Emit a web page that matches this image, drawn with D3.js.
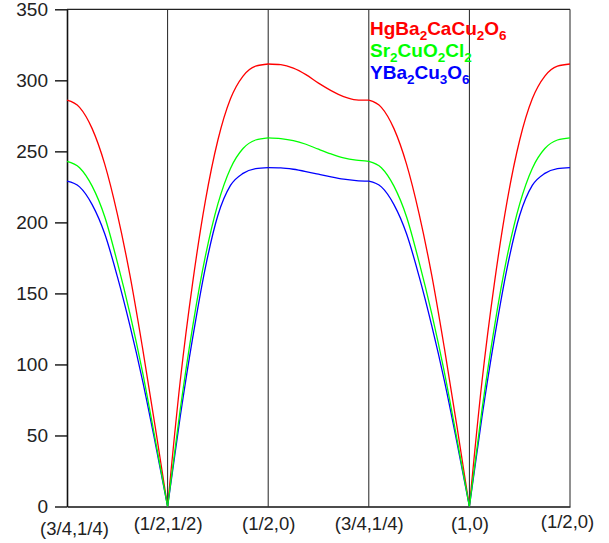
<!DOCTYPE html>
<html>
<head>
<meta charset="utf-8">
<script src="https://cdn.jsdelivr.net/npm/d3@7"></script>
<style>
  html, body { margin: 0; padding: 0; background: #fff; }
  svg { display: block; font-family: "Liberation Sans", Arial, sans-serif; }
</style>
</head>
<body>
<div id="chart"></div>
<script>
// k-path labels (one per high-symmetry point)
var kLabels = ["(3/4,1/4)", "(1/2,1/2)", "(1/2,0)", "(3/4,1/4)", "(1,0)", "(1/2,0)"];
var yTicks = [0, 50, 100, 150, 200, 250, 300, 350];

// legend names, "_n" = subscript
var seriesNames = ["HgBa_2CaCu_2O_6", "Sr_2CuO_2Cl_2", "YBa_2Cu_3O_6"];
var seriesColors = ["#ff0000", "#00ff00", "#0000ff"];

// 8 samples per segment, 5 segments -> 41 values
var hgValues = [286, 281, 266, 241, 206, 163, 112, 57, 0,
                88, 158, 215, 258, 287, 303, 310, 311.5,
                311, 308.6, 304, 298, 292.8, 288.6, 286.3, 286,
                281, 266, 241, 206, 163, 112, 57, 0,
                88, 158, 215, 258, 287, 303, 310, 311.5];
var srValues = [243, 238.5, 225.5, 204, 172, 136, 95, 48, 0,
                68, 127, 176, 213, 238, 252, 258, 259.5,
                259, 257.6, 255, 251.5, 248.2, 245.4, 243.8, 243,
                238.5, 225.5, 204, 172, 136, 95, 48, 0,
                68, 127, 176, 213, 238, 252, 258, 259.5];
var yValues  = [229, 225, 212.5, 192, 162, 127.5, 89, 45.5, 0,
                63, 119, 168, 205, 226, 234.5, 237.8, 238.6,
                238.4, 237.4, 235.8, 233.9, 232, 230.4, 229.4, 229,
                225, 212.5, 192, 162, 127.5, 89, 45.5, 0,
                63, 119, 168, 205, 226, 234.5, 237.8, 238.6];
var samplesPerSeg = 8;

var width = 609, height = 543;
var margin = { left: 67, right: 39, top: 9.3, bottom: 36.5 };

var svg = d3.select("#chart").append("svg")
    .attr("width", width)
    .attr("height", height);

var x = d3.scaleLinear()
    .domain([0, kLabels.length - 1])
    .range([margin.left, width - margin.right]);
var y = d3.scaleLinear()
    .domain([0, 350])
    .range([height - margin.bottom, margin.top]);

// vertical separators at each k point + frame
svg.append("g").selectAll("line")
    .data(d3.range(1, kLabels.length))
    .enter().append("line")
    .attr("x1", d => x(d)).attr("x2", d => x(d))
    .attr("y1", y(0)).attr("y2", y(350))
    .attr("stroke", "#222")
    .attr("stroke-width", 1);

svg.append("line")
    .attr("x1", x(0)).attr("x2", x(5))
    .attr("y1", y(350)).attr("y2", y(350))
    .attr("stroke", "#222").attr("stroke-width", 1.2);

// y axis
var yAxis = svg.append("g")
    .attr("transform", "translate(" + x(0) + ",0)")
    .call(d3.axisLeft(y).tickValues(yTicks).tickSize(12).tickSizeOuter(0).tickPadding(7));
yAxis.select(".domain").attr("stroke", "#111").attr("stroke-width", 1.6);
yAxis.selectAll(".tick line").attr("stroke", "#111").attr("stroke-width", 1.4);
yAxis.selectAll("text")
    .attr("font-size", "19px")
    .attr("fill", "#222")
    .attr("font-family", "Liberation Sans, Arial, sans-serif");

// x axis
var xAxis = svg.append("g")
    .attr("transform", "translate(0," + y(0) + ")")
    .call(d3.axisBottom(x).tickValues(d3.range(kLabels.length)).tickSize(0).tickSizeOuter(0).tickPadding(10.5)
        .tickFormat(i => kLabels[i]));
xAxis.select(".domain").attr("stroke", "#111").attr("stroke-width", 1.6);
xAxis.selectAll("text")
    .attr("font-size", "18.5px")
    .attr("fill", "#222")
    .attr("font-family", "Liberation Sans, Arial, sans-serif");
// first label nudged right/down, last nudged left/up like the original
xAxis.selectAll(".tick").filter(d => d === 0).select("text").attr("x", 7).attr("y", 15.5);
xAxis.selectAll(".tick").filter(d => d === 5).select("text").attr("x", -3).attr("y", 8.5);

// curves, drawn segment by segment so the zeros stay sharp
var allSeries = [hgValues, yValues, srValues];
var allColors = [seriesColors[0], seriesColors[2], seriesColors[1]];
var line = d3.line()
    .x(d => x(d[0]))
    .y(d => y(d[1]))
    .curve(d3.curveMonotoneX);

var curves = svg.append("g");
allSeries.forEach(function(vals, si) {
    var pts = vals.map((v, i) => [i / samplesPerSeg, v]);
    for (var s = 0; s < kLabels.length - 1; s++) {
        curves.append("path")
            .attr("d", line(pts.slice(s * samplesPerSeg, s * samplesPerSeg + samplesPerSeg + 1)))
            .attr("fill", "none")
            .attr("stroke", allColors[si])
            .attr("stroke-width", 1.3);
    }
});

// legend
var legend = svg.append("g").attr("transform", "translate(370,35)");
seriesNames.forEach(function(name, i) {
    var t = legend.append("text")
        .attr("x", 0)
        .attr("y", i * 22)
        .attr("font-size", "19px")
        .attr("font-weight", "bold")
        .attr("fill", seriesColors[i]);
    var parts = name.split(/(_\d)/).filter(p => p.length);
    var sub = false;
    parts.forEach(function(p) {
        if (p[0] === "_") {
            t.append("tspan").attr("font-size", "13.5px").attr("dy", 4.5).text(p.slice(1));
            sub = true;
        } else {
            t.append("tspan").attr("dy", sub ? -4.5 : 0).text(p);
            sub = false;
        }
    });
});
</script>
</body>
</html>
